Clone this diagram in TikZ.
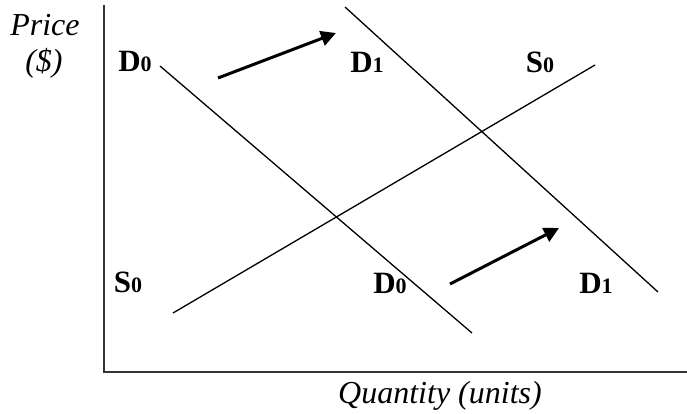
\documentclass[tikz,border=0pt]{standalone}
\usepackage{fontspec}
\setmainfont{Liberation Serif}
\usetikzlibrary{arrows.meta}
\newcommand{\lbl}[2]{\textbf{#1{\fontsize{22}{24}\selectfont #2}}}
\begin{document}
\begin{tikzpicture}[x=1pt,y=-1pt,
  axisline/.style={line width=2pt,draw=black!80},
  curve/.style={line width=1.3pt},
  shift arrow/.style={line width=3pt,-{Triangle[length=15pt,width=15pt]}},
  axlabel/.style={anchor=base,inner sep=0pt,font=\fontsize{32}{36}\selectfont\itshape},
  crvlabel/.style={anchor=base,inner sep=0pt,font=\fontsize{31}{36}\selectfont}]
\useasboundingbox (0,0) rectangle (687,413);
% axes
\coordinate (ytop) at (104,5);
\coordinate (origin) at (104,372);
\coordinate (xend) at (687,372);
\draw[axisline] (ytop) -- (origin) -- (xend);
% axis labels
\node[axlabel] (price) at (45,35) {Price};
\node[axlabel] (dollar) at (44,71) {(\$)};
\node[axlabel] (qty) at (440,403) {Quantity (units)};
% curves
\coordinate (d0a) at (160,66);
\coordinate (d0b) at (472,333);
\coordinate (d1a) at (345,7);
\coordinate (d1b) at (658,292);
\coordinate (s0a) at (173,313);
\coordinate (s0b) at (595,65);
\draw[curve] (d0a) -- (d0b);
\draw[curve] (d1a) -- (d1b);
\draw[curve] (s0a) -- (s0b);
% shift arrows
\coordinate (a1s) at (218,78);
\coordinate (a1e) at (336,33);
\coordinate (a2s) at (450,284);
\coordinate (a2e) at (559,228);
\draw[shift arrow] (a1s) -- (a1e);
\draw[shift arrow] (a2s) -- (a2e);
% curve labels
\node[crvlabel] (d0up) at (135,71) {\lbl{D}{0}};
\node[crvlabel] (d1up) at (367,72) {\lbl{D}{1}};
\node[crvlabel] (s0up) at (540,72) {\lbl{S}{0}};
\node[crvlabel] (s0lo) at (128,292) {\lbl{S}{0}};
\node[crvlabel] (d0lo) at (390,293) {\lbl{D}{0}};
\node[crvlabel] (d1lo) at (596,293) {\lbl{D}{1}};
\end{tikzpicture}
\end{document}
